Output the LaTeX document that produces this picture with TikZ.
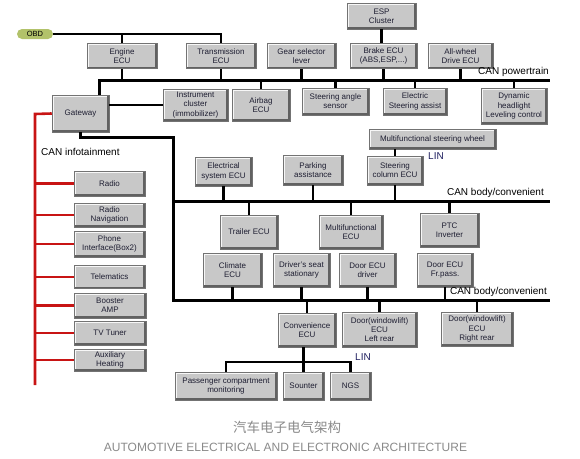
\documentclass[tikz,border=0pt]{standalone}
\usepackage{fontspec}
\setmainfont{Liberation Sans}
\newfontfamily\cnfont{Noto Sans CJK SC}
\definecolor{ecugray}{HTML}{C8C8C8}
\definecolor{obdgreen}{HTML}{B2C26A}
\definecolor{infored}{HTML}{C81414}
\definecolor{lingblue}{HTML}{202060}
\definecolor{ecutext}{HTML}{1E1E32}
\definecolor{capgray}{HTML}{8A8A8A}
\tikzset{
  ecu/.style={draw=black!55, fill=ecugray, line width=0.5pt, align=center, inner sep=1pt,
    text=ecutext, font=\fontsize{8}{9.2}\selectfont,
    path picture={
      \draw[white!85!ecugray, line width=3.6pt] (path picture bounding box.south west) |- (path picture bounding box.north east);
      \draw[black!62, line width=4pt] (path picture bounding box.north east) |- (path picture bounding box.south west);
    }},
  sz/.style 2 args={minimum width=#1pt, minimum height=#2pt},
  bus/.style={line width=3pt},
  wire/.style={line width=2.6pt},
  redwire/.style={infored, line width=2.6pt},
  canlbl/.style={font=\fontsize{10}{11}\selectfont, inner sep=1pt},
  linlbl/.style={canlbl, text=lingblue},
}

\begin{document}
\begin{tikzpicture}[x=1pt, y=-1pt]
  \useasboundingbox (0,0) rectangle (580,458);
  \def\busE{550}
  % buses
  \coordinate (ptW) at (99,80);   \coordinate (ptE) at (\busE,80);
  \coordinate (bdW) at (173,201); \coordinate (bdE) at (\busE,201);
  \coordinate (lwW) at (173,300); \coordinate (lwE) at (\busE,300);
  \coordinate (redtop) at (35,114); \coordinate (redbot) at (35,385);
  \coordinate (linW) at (225,362);
  % OBD and powertrain
  \node[fill=obdgreen, rounded corners=5pt, sz={36}{10}, inner sep=0pt, font=\fontsize{7.5}{8}\selectfont] (obd) at (35,34) {OBD};
  \node[ecu, sz={70}{25}] (engine) at (122,56) {Engine\\ECU};
  \node[ecu, sz={70}{25}] (trans) at (221,56) {Transmission\\ECU};
  \node[ecu, sz={69}{25}] (gear) at (301.5,56) {Gear selector\\lever};
  \node[ecu, sz={69}{26}] (esp) at (381.5,16) {ESP\\Cluster};
  \node[ecu, sz={67}{25}] (brake) at (383.5,56) {Brake ECU\\(ABS,ESP,...)};
  \node[ecu, sz={65}{25}] (awd) at (460.5,56) {All-wheel\\Drive ECU};
  \node[ecu, sz={57}{37}] (gateway) at (80.5,113.5) {Gateway};
  \node[ecu, sz={65}{32}] (instr) at (195.5,105) {Instrument\\cluster\\(immobilizer)};
  \node[ecu, sz={58}{32}] (airbag) at (261,105) {Airbag\\ECU};
  \node[ecu, sz={67}{27}] (sangle) at (335.5,101.5) {Steering angle\\sensor};
  \node[ecu, sz={64}{27}] (esteer) at (415,101.5) {Electric\\Steering assist};
  \node[ecu, sz={66}{36}] (dyn) at (514,106) {Dynamic\\headlight\\Leveling control};
  % body / convenient
  \node[ecu, sz={127}{20}] (msw) at (432.5,139) {Multifunctional steering wheel};
  \node[ecu, sz={56}{29}] (scol) at (395,170.5) {Steering\\column ECU};
  \node[ecu, sz={60}{30}] (park) at (313,170) {Parking\\assistance};
  \node[ecu, sz={57}{29}] (elec) at (223.5,171.5) {Electrical\\system ECU};
  \node[ecu, sz={58}{34}] (trailer) at (249,232) {Trailer ECU};
  \node[ecu, sz={64}{34}] (multi) at (351,232) {Multifunctional\\ECU};
  \node[ecu, sz={59}{34}] (ptc) at (449.5,230) {PTC\\Inverter};
  \node[ecu, sz={59}{34}] (climate) at (232.5,270) {Climate\\ECU};
  \node[ecu, sz={57}{34}] (seat) at (301.5,270) {Driver's seat\\stationary};
  \node[ecu, sz={57}{34}] (doordrv) at (367.5,270) {Door ECU\\driver};
  \node[ecu, sz={56}{34}] (doorfp) at (445,270) {Door ECU\\Fr.pass.};
  \node[ecu, sz={58}{34}] (conv) at (307,330) {Convenience\\ECU};
  \node[ecu, sz={75}{35}] (doorlr) at (379.5,329.5) {Door(windowlift)\\ECU\\Left rear};
  \node[ecu, sz={72}{34}] (doorrr) at (477,329) {Door(windowlift)\\ECU\\Right rear};
  \node[ecu, sz={102}{28}] (passenger) at (226,386) {Passenger compartment\\monitoring};
  \node[ecu, sz={41}{28}] (sounter) at (303.5,386) {Sounter};
  \node[ecu, sz={41}{28}] (ngs) at (350.5,386) {NGS};
  % infotainment
  \node[ecu, sz={71}{25}] (radio) at (109.5,183.5) {Radio};
  \node[ecu, sz={71}{24}] (radnav) at (109.5,215) {Radio\\Navigation};
  \node[ecu, sz={71}{26}] (phone) at (109.5,244) {Phone\\Interface(Box2)};
  \node[ecu, sz={71}{23}] (telem) at (109.5,277) {Telematics};
  \node[ecu, sz={72}{25}] (booster) at (110,305.5) {Booster\\AMP};
  \node[ecu, sz={72}{24}] (tv) at (110,333) {TV Tuner};
  \node[ecu, sz={72}{22}] (aux) at (110,360) {Auxiliary\\Heating};

  % wiring
  \draw[wire] (obd.east) -| (trans.north);
  \draw[wire] (engine.north) -- (engine.north |- obd.east);
  \draw[wire] (esp.south) -- (esp.south |- brake.north);
  \draw[bus] (ptW |- gateway.north) -- (ptW) -- (ptE);
  \foreach \n in {engine,trans,gear,brake,awd}
    \draw[wire] (\n.south) -- (\n.south |- ptW);
  \foreach \n in {airbag,sangle,esteer,dyn}
    \draw[wire] (\n.north) -- (\n.north |- ptW);
  \draw[wire] (instr.west) -- (instr.west -| gateway.east);
  \draw[bus] (gateway.south) -- ++(0,5) -| (lwW) -- (lwE);
  \draw[bus] (bdW) -- (bdE);
  \draw[wire] (scol.north) -- (scol.north |- msw.south);
  \foreach \n in {elec,park,scol}
    \draw[wire] (\n.south) -- (\n.south |- bdW);
  \foreach \n in {trailer,multi,ptc}
    \draw[wire] (\n.north) -- (\n.north |- bdW);
  \foreach \n in {climate,seat,doordrv,doorfp}
    \draw[wire] (\n.south) -- (\n.south |- lwW);
  \foreach \n in {conv,doorlr,doorrr}
    \draw[wire] (\n.north) -- (\n.north |- lwW);
  \draw[wire] (sounter.north) -- (sounter.north |- conv.south);
  \draw[wire] (passenger.north) -- (passenger.north |- linW) -| (ngs.north);
  \draw[redwire] (gateway.west) -- (redtop) -- (redbot);
  \foreach \n in {radio,radnav,phone,telem,booster,tv,aux}
    \draw[redwire] (\n.west) -- (\n.west -| redtop);

  % labels
  \node[canlbl, anchor=south east] (lblpt) at (\busE,78) {CAN powertrain};
  \node[canlbl, anchor=south east] (lblbd) at (545,199) {CAN body/convenient};
  \node[canlbl, anchor=south east] (lbllw) at (548,298) {CAN body/convenient};
  \node[canlbl, anchor=west] (lblinfo) at (40,152) {CAN infotainment};
  \node[linlbl, anchor=west] (lin1) at (427,156) {LIN};
  \node[linlbl, anchor=west] (lin2) at (354,357) {LIN};
  % caption
  \node[font=\cnfont\fontsize{13.5}{14}\selectfont, text=capgray] (capcn) at (287,427) {汽车电子电气架构};
  \node[font=\fontsize{12}{13}\selectfont, text=capgray] (capen) at (285.5,447) {AUTOMOTIVE ELECTRICAL AND ELECTRONIC ARCHITECTURE};
\end{tikzpicture}
\end{document}
